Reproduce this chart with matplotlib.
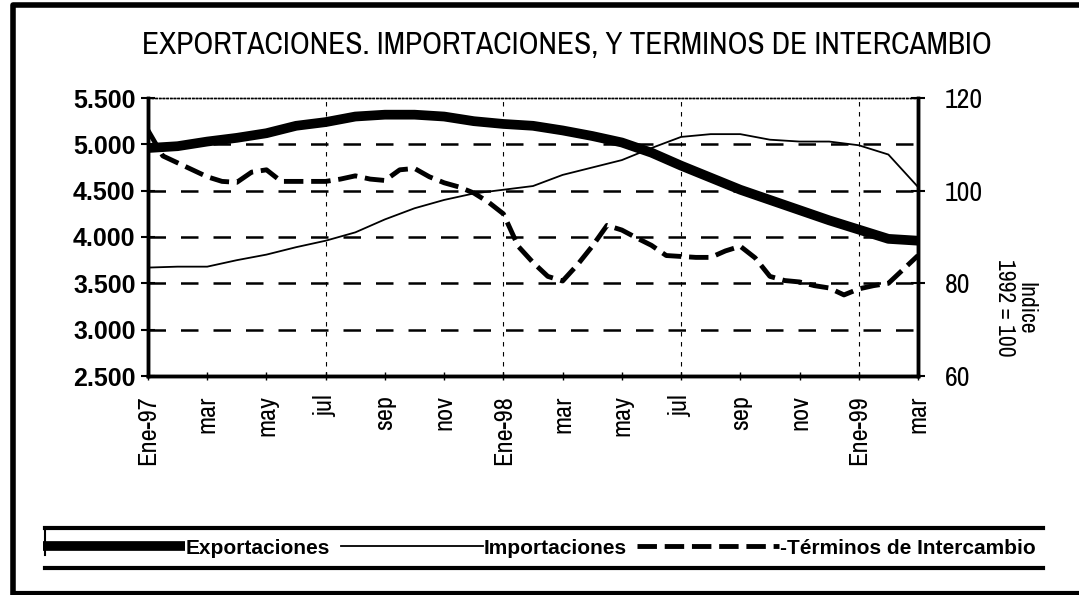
import matplotlib
matplotlib.use("Agg")
from matplotlib import pyplot as plt
from matplotlib.lines import Line2D

# Data
months = list(range(27))  # Ene-97 .. mar-99
exportaciones = [4960, 4980, 5030, 5070, 5120, 5200, 5240, 5300, 5320, 5320,
                 5300, 5250, 5220, 5200, 5150, 5090, 5020, 4910, 4770, 4640,
                 4510, 4400, 4290, 4180, 4080, 3980, 3960]
importaciones = [3670, 3680, 3680, 3750, 3810, 3890, 3960, 4050, 4190, 4310,
                 4400, 4470, 4510, 4550, 4670, 4750, 4830, 4960, 5080, 5110,
                 5110, 5050, 5030, 5030, 4990, 4890, 4540]
# terms of trade, half-month steps
ti_x = [i / 2 for i in range(53)]
terminos = [113, 107.5, 106, 104.5, 103, 102, 101.8, 104, 104.5, 102,
            102, 102, 102, 102.5, 103.2, 102.5, 102.2, 104.5, 104.8, 103,
            101.7, 100.8, 99.5, 97.5, 95, 88, 84.5, 81.5, 80.5, 84,
            88, 92.5, 91.5, 89.8, 88.2, 86, 85.8, 85.6, 85.6, 87,
            88, 85.5, 81.5, 80.6, 80.3, 79.5, 79, 77.5, 78.8, 79.5,
            80, 83, 86]
tick_pos = list(range(0, 27, 2))
tick_labels = ["Ene-97", "mar", "may", "jul", "sep", "nov", "Ene-98",
               "mar", "may", "jul", "sep", "nov", "Ene-99", "mar"]
left_ticks = [2500, 3000, 3500, 4000, 4500, 5000, 5500]
right_ticks = [60, 80, 100, 120]

narrow = ["Archivo Narrow", "Liberation Sans", "DejaVu Sans"]
plt.rcParams["font.family"] = ["Liberation Sans", "DejaVu Sans"]

fig = plt.figure(figsize=(10.79, 5.95), dpi=100)
ax = fig.add_axes([148 / 1079, 1 - 376 / 595, 770 / 1079, 278 / 595])
ax2 = ax.twinx()

l1, = ax.plot(months, exportaciones, color="black", lw=7, solid_capstyle="butt")
l2, = ax.plot(months, importaciones, color="black", lw=1.3)
l3, = ax2.plot(ti_x, terminos, color="black", lw=3.5, dashes=(4, 1.6))

ax.set_xlim(0, 26)
ax.set_ylim(2500, 5500)
ax2.set_ylim(60, 120)
ax.set_yticks(left_ticks)
ax.set_yticklabels([f"{v:,}".replace(",", ".") for v in left_ticks], fontsize=18,
                   fontweight="bold")
ax2.set_yticks(right_ticks)
ax2.set_yticklabels([str(v) for v in right_ticks], fontsize=20, family=narrow)
ax.set_xticks(tick_pos)
ax.set_xticklabels(tick_labels, rotation=90, fontsize=19, family=narrow)

# gridlines
for v in left_ticks[1:-1]:
    ax.axhline(v, color="black", lw=1.8, dashes=(7, 6), zorder=0)
for m in [6, 12, 18, 24]:
    ax.axvline(m, color="black", lw=0.8, dashes=(4, 5), zorder=0)

for a in (ax, ax2):
    for s in ("left", "right", "bottom"):
        a.spines[s].set_linewidth(2.5)
    a.spines["top"].set_linewidth(1)
    a.spines["top"].set_linestyle(":")
ax.tick_params(axis="y", direction="inout", length=10, width=1.5, pad=4)
ax2.tick_params(axis="y", direction="inout", length=10, width=1.5, pad=14)
ax.tick_params(axis="x", direction="inout", length=6, width=1, pad=11)

fig.text(567 / 1079, 1 - 45 / 595, "EXPORTACIONES. IMPORTACIONES, Y TERMINOS DE INTERCAMBIO",
         ha="center", va="center", fontsize=22.5, family=narrow)
fig.text(1015 / 1079, 1 - 308 / 595, "Indice\n1992 = 100", rotation=270,
         ha="center", va="center", fontsize=17, family=narrow, linespacing=1.0,
         multialignment="center")

leg = fig.legend([l1, l2, l3], ["Exportaciones", "Importaciones", "-Términos de Intercambio"],
                 ncol=3, loc="center", bbox_to_anchor=(0.5, 1 - 548 / 595),
                 frameon=False, handlelength=6.8, columnspacing=0.5, handletextpad=0.05,
                 prop={"size": 15, "weight": "bold"})

# frame around figure and legend band
fig.add_artist(Line2D([13 / 1079, 13 / 1079, 1], [2 / 595, 1 - 5 / 595, 1 - 5 / 595],
                      color="black", lw=4))
fig.add_artist(Line2D([13 / 1079, 1], [2 / 595, 2 / 595], color="black", lw=3))
fig.add_artist(Line2D([45 / 1079, 1043 / 1079], [1 - 528 / 595] * 2, color="black", lw=3))
fig.add_artist(Line2D([45 / 1079, 1043 / 1079], [1 - 568 / 595] * 2, color="black", lw=3))
fig.add_artist(Line2D([45 / 1079] * 2, [1 - 528 / 595, 1 - 555 / 595], color="black", lw=1.5))

fig.savefig("out.png", dpi=100)
